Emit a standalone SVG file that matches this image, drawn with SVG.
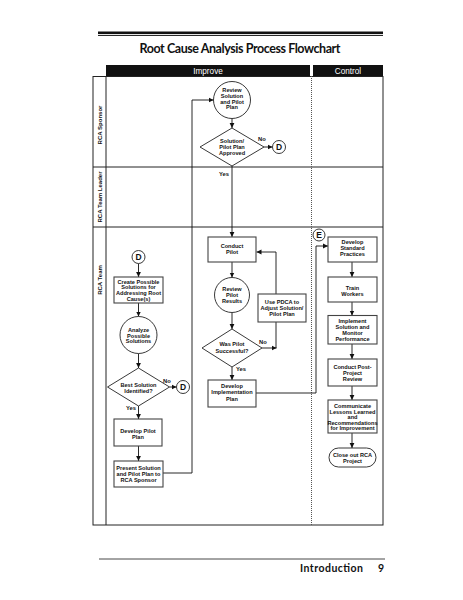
<svg xmlns="http://www.w3.org/2000/svg" width="463" height="600" viewBox="0 0 463 600">
<style>
.t{font-family:"Liberation Sans",Arial,sans-serif;font-weight:bold;font-size:5.6px;fill:#111;text-anchor:middle}
.lab{font-family:"Liberation Sans",Arial,sans-serif;font-weight:bold;font-size:5.8px;fill:#111}
.lane{font-family:"Liberation Sans",Arial,sans-serif;font-weight:bold;font-size:6px;fill:#111;text-anchor:middle}
.hdr{font-family:"Liberation Sans",Arial,sans-serif;font-size:8.2px;fill:#fff;text-anchor:middle}
.box{fill:#fff;stroke:#444;stroke-width:1.1}
.shape{fill:#fff;stroke:#222;stroke-width:0.9}
.con{fill:#fff;stroke:#222;stroke-width:0.9}
.ct{font-family:"Liberation Sans",Arial,sans-serif;font-weight:bold;font-size:8.5px;fill:#111;text-anchor:middle}
.ln{fill:none;stroke:#111;stroke-width:0.9}
.frame{fill:none;stroke:#222;stroke-width:1}
</style>
<defs>
<marker id="ah" markerUnits="userSpaceOnUse" markerWidth="6" markerHeight="6" refX="5" refY="3" orient="auto">
<path d="M0,0.6 L5,3 L0,5.4 Z" fill="#111"/>
</marker>
</defs>

<g id="page">
<rect x="98" y="31.5" width="285" height="2.6" fill="#111"/>
<rect x="98" y="35" width="285" height="0.9" fill="#111"/>
<text x="240" y="53" font-family="Lato,'Open Sans',sans-serif" font-weight="bold" font-size="12.5" text-anchor="middle" fill="#111" textLength="201">Root Cause Analysis Process Flowchart</text>
<line x1="99" y1="559" x2="385" y2="559" stroke="#333" stroke-width="0.9"/>
<text x="300" y="572" font-family="Lato,'Open Sans',sans-serif" font-weight="bold" font-size="10.5" fill="#111" textLength="63">Introduction</text>
<text x="378" y="572" font-family="Lato,'Open Sans',sans-serif" font-weight="bold" font-size="10.5" fill="#111">9</text>
</g>

<g id="lanes">
<rect x="106" y="65" width="204" height="11" fill="#111"/>
<rect x="313" y="65" width="70" height="11" fill="#111"/>
<text class="hdr" x="208" y="73.5">Improve</text>
<text class="hdr" x="348" y="73.5">Control</text>
<rect class="frame" x="93" y="76.5" width="290" height="448.5"/>
<line class="frame" x1="106" y1="76" x2="106" y2="525"/>
<line class="frame" x1="93" y1="167" x2="383" y2="167"/>
<line class="frame" x1="93" y1="227" x2="383" y2="227"/>
<line x1="311.5" y1="76" x2="311.5" y2="525" stroke="#555" stroke-width="1" stroke-dasharray="1,1"/>
<text class="lane" transform="translate(102,125) rotate(-90)">RCA Sponsor</text>
<text class="lane" transform="translate(102,197) rotate(-90)">RCA Team Leader</text>
<text class="lane" transform="translate(102,280) rotate(-90)">RCA Team</text>
</g>

<g id="connectors">
<line class="ln" x1="232" y1="118.5" x2="232" y2="128" marker-end="url(#ah)"/>
<line class="ln" x1="264" y1="147" x2="272.5" y2="147" marker-end="url(#ah)"/>
<line class="ln" x1="232" y1="166" x2="232" y2="237" marker-end="url(#ah)"/>
<line class="ln" x1="232" y1="262" x2="232" y2="277.5" marker-end="url(#ah)"/>
<line class="ln" x1="232" y1="312.5" x2="232" y2="329" marker-end="url(#ah)"/>
<line class="ln" x1="232" y1="367" x2="232" y2="380" marker-end="url(#ah)"/>
<line class="ln" x1="262" y1="348" x2="276.5" y2="348" marker-end="url(#ah)"/>
<polyline class="ln" points="276,348 276,252 256.5,252" marker-end="url(#ah)"/>
<polyline class="ln" points="256,393 316,393 316,246 328,246" marker-end="url(#ah)"/>
<line class="ln" x1="352" y1="262" x2="352" y2="277" marker-end="url(#ah)"/>
<line class="ln" x1="352" y1="302" x2="352" y2="315.5" marker-end="url(#ah)"/>
<line class="ln" x1="352" y1="344" x2="352" y2="359" marker-end="url(#ah)"/>
<line class="ln" x1="352" y1="386" x2="352" y2="400" marker-end="url(#ah)"/>
<line class="ln" x1="352" y1="433" x2="352" y2="448" marker-end="url(#ah)"/>
<line class="ln" x1="138.5" y1="263.5" x2="138.5" y2="277" marker-end="url(#ah)"/>
<line class="ln" x1="138.5" y1="303" x2="138.5" y2="316.5" marker-end="url(#ah)"/>
<line class="ln" x1="138.5" y1="353.5" x2="138.5" y2="368" marker-end="url(#ah)"/>
<line class="ln" x1="169.5" y1="387" x2="176.5" y2="387" marker-end="url(#ah)"/>
<line class="ln" x1="138.5" y1="406" x2="138.5" y2="419" marker-end="url(#ah)"/>
<line class="ln" x1="138.5" y1="446" x2="138.5" y2="461" marker-end="url(#ah)"/>
<polyline class="ln" points="163,473 192,473 192,100 213.5,100" marker-end="url(#ah)"/>
<text class="lab" x="258" y="141">No</text>
<text class="lab" x="219" y="176">Yes</text>
<text class="lab" x="259" y="344">No</text>
<text class="lab" x="236" y="371">Yes</text>
<text class="lab" x="163" y="382.5">No</text>
<text class="lab" x="126" y="410">Yes</text>
</g>

<g id="review-solution">
<circle class="shape" cx="232" cy="100" r="18.5"/>
<text class="t" x="232" y="92">Review</text>
<text class="t" x="232" y="97.8">Solution</text>
<text class="t" x="232" y="103.6">and Pilot</text>
<text class="t" x="232" y="109.4">Plan</text>
</g>
<g id="approved">
<polygon class="shape" points="232,128 264,147 232,166 200,147"/>
<text class="t" x="232" y="143">Solution/</text>
<text class="t" x="232" y="148.8">Pilot Plan</text>
<text class="t" x="232" y="154.6">Approved</text>
</g>
<g id="d1">
<circle class="con" cx="279" cy="147" r="6.5"/>
<text class="ct" x="279" y="150.2">D</text>
</g>
<g id="conduct-pilot">
<rect class="box" x="208" y="237" width="48" height="25"/>
<text class="t" x="232" y="247.7">Conduct</text>
<text class="t" x="232" y="253.7">Pilot</text>
</g>
<g id="review-pilot">
<circle class="shape" cx="232" cy="295" r="17.5"/>
<text class="t" x="232" y="291">Review</text>
<text class="t" x="232" y="297">Pilot</text>
<text class="t" x="232" y="303">Results</text>
</g>
<g id="successful">
<polygon class="shape" points="232,329 262,348 232,367 202,348"/>
<text class="t" x="232" y="346.3">Was Pilot</text>
<text class="t" x="232" y="353">Successful?</text>
</g>
<g id="pdca">
<rect class="box" x="258" y="294" width="48" height="28"/>
<text class="t" x="282" y="303.7">Use PDCA to</text>
<text class="t" x="282" y="309.7">Adjust Solution/</text>
<text class="t" x="282" y="315.7">Pilot Plan</text>
</g>
<g id="implementation-plan">
<rect class="box" x="208" y="380" width="48" height="27"/>
<text class="t" x="232" y="388">Develop</text>
<text class="t" x="232" y="394.3">Implementation</text>
<text class="t" x="232" y="400.6">Plan</text>
</g>
<g id="e1">
<circle class="con" cx="319" cy="235" r="6"/>
<text class="ct" x="319" y="238.2">E</text>
</g>
<g id="standard-practices">
<rect class="box" x="328" y="237" width="49" height="25"/>
<text class="t" x="352.5" y="243.7">Develop</text>
<text class="t" x="352.5" y="250">Standard</text>
<text class="t" x="352.5" y="256.3">Practices</text>
</g>
<g id="train-workers">
<rect class="box" x="328" y="277" width="49" height="25"/>
<text class="t" x="352.5" y="290">Train</text>
<text class="t" x="352.5" y="296">Workers</text>
</g>
<g id="implement">
<rect class="box" x="328" y="315.5" width="49" height="28.5"/>
<text class="t" x="352.5" y="322.6">Implement</text>
<text class="t" x="352.5" y="328.6">Solution and</text>
<text class="t" x="352.5" y="334.6">Monitor</text>
<text class="t" x="352.5" y="340.6">Performance</text>
</g>
<g id="post-review">
<rect class="box" x="328" y="359" width="49" height="27"/>
<text class="t" x="352.5" y="368.7">Conduct Post-</text>
<text class="t" x="352.5" y="374.7">Project</text>
<text class="t" x="352.5" y="380.7">Review</text>
</g>
<g id="lessons">
<rect class="box" x="328" y="400" width="49" height="33"/>
<text class="t" x="352.5" y="408">Communicate</text>
<text class="t" x="352.5" y="413.6">Lessons Learned</text>
<text class="t" x="352.5" y="419.2">and</text>
<text class="t" x="352.5" y="424.8">Recommendations</text>
<text class="t" x="352.5" y="430.4">for Improvement</text>
</g>
<g id="close-out">
<rect class="shape" x="329" y="448" width="47" height="19" rx="9.5"/>
<text class="t" x="352.5" y="457">Close out RCA</text>
<text class="t" x="352.5" y="463">Project</text>
</g>
<g id="d2">
<circle class="con" cx="138.5" cy="257" r="6.5"/>
<text class="ct" x="138.5" y="260.2">D</text>
</g>
<g id="create-solutions">
<rect class="box" x="114" y="277" width="49" height="26"/>
<text class="t" x="138.5" y="283.7">Create Possible</text>
<text class="t" x="138.5" y="289.3">Solutions for</text>
<text class="t" x="138.5" y="294.9">Addressing Root</text>
<text class="t" x="138.5" y="300.5">Cause(s)</text>
</g>
<g id="analyze">
<circle class="shape" cx="138.5" cy="335" r="18.5"/>
<text class="t" x="138.5" y="332">Analyze</text>
<text class="t" x="138.5" y="337.7">Possible</text>
<text class="t" x="138.5" y="343.4">Solutions</text>
</g>
<g id="best-solution">
<polygon class="shape" points="138.5,368 169.5,387 138.5,406 107.5,387"/>
<text class="t" x="138.5" y="386.5">Best Solution</text>
<text class="t" x="138.5" y="393">Identified?</text>
</g>
<g id="d3">
<circle class="con" cx="183" cy="387" r="6.5"/>
<text class="ct" x="183" y="390.2">D</text>
</g>
<g id="pilot-plan">
<rect class="box" x="114" y="419" width="48" height="27"/>
<text class="t" x="138" y="433">Develop Pilot</text>
<text class="t" x="138" y="438.8">Plan</text>
</g>
<g id="present-solution">
<rect class="box" x="114" y="461" width="49" height="26"/>
<text class="t" x="138.5" y="470.3">Present Solution</text>
<text class="t" x="138.5" y="476.1">and Pilot Plan to</text>
<text class="t" x="138.5" y="481.9">RCA Sponsor</text>
</g>
</svg>
